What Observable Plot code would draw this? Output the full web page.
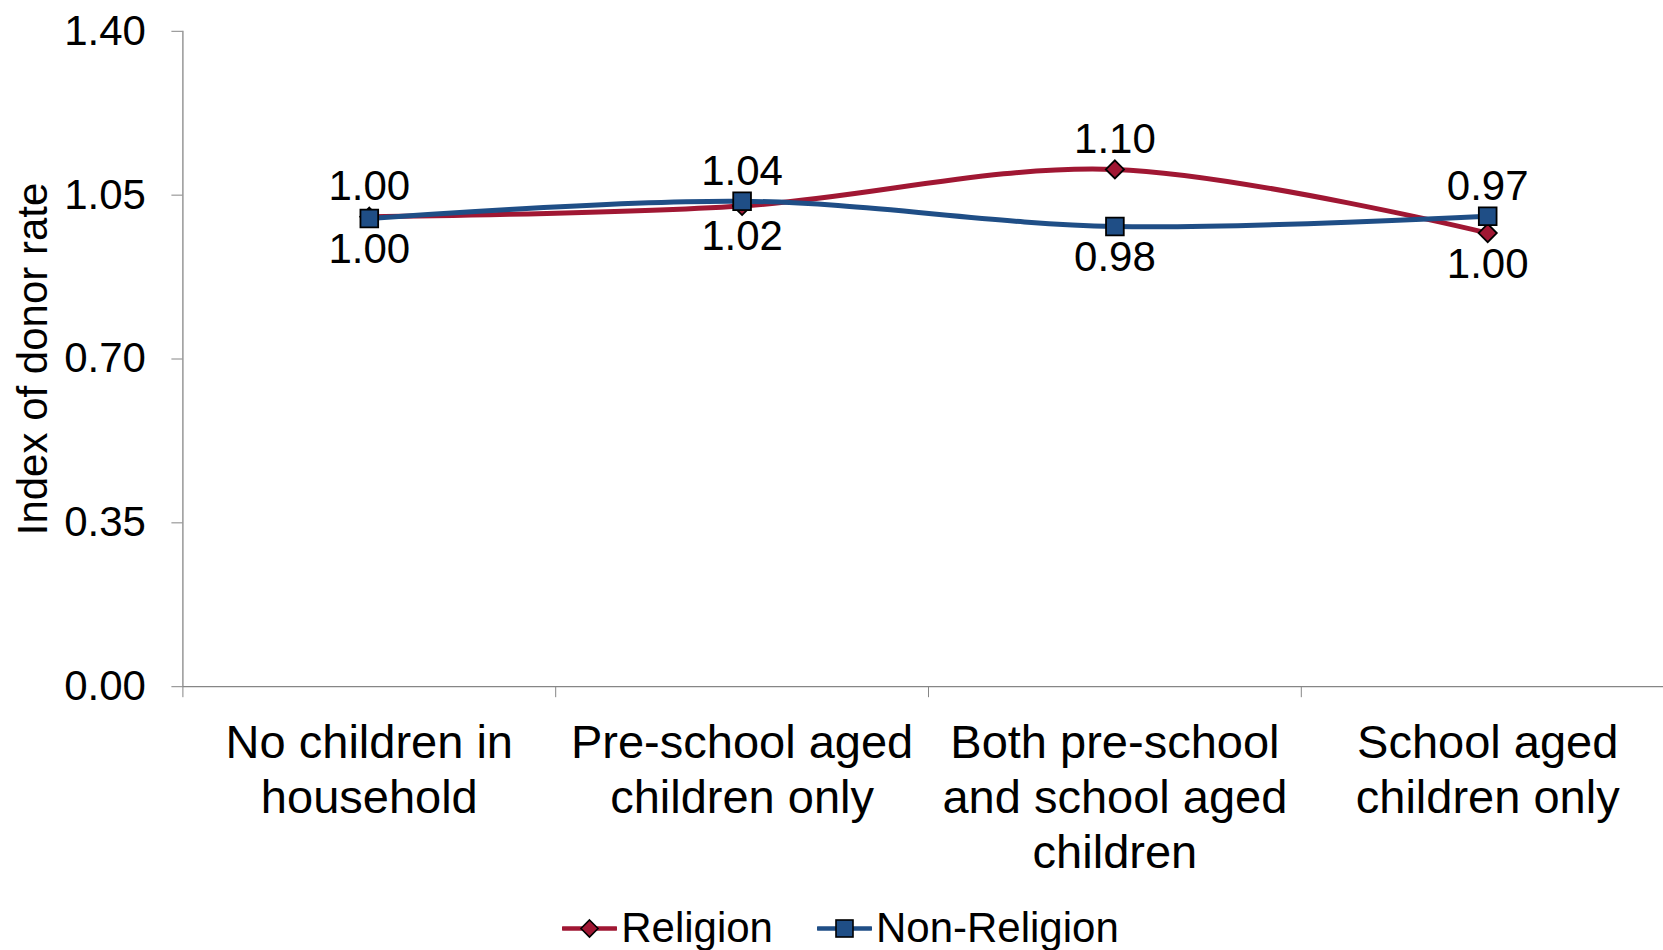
<!DOCTYPE html>
<html><head><meta charset="utf-8">
<script src="https://cdn.jsdelivr.net/npm/d3@7"></script>
<script src="https://cdn.jsdelivr.net/npm/@observablehq/plot@0.6"></script>
<style>
html,body{margin:0;padding:0;background:#fff;overflow:hidden;}
body{font-family:"Liberation Sans",Arial,sans-serif;}
#legend{display:flex;justify-content:center;align-items:center;height:48px;margin-top:14px;font-size:42px;line-height:48px;color:#000;padding-left:18px;}
.item{display:flex;align-items:center;}
.item + .item{margin-left:44px;}
.item svg{margin-right:4px;}
</style></head>
<body><div id="chart"></div><div id="legend"></div>
<script>
const categories = ["No children in\nhousehold", "Pre-school aged\nchildren only", "Both pre-school\nand school aged\nchildren", "School aged\nchildren only"];
const seriesNames = ["Religion", "Non-Religion"];
const religion = [1.004, 1.027, 1.105, 0.969];
const nonReligion = [1.000, 1.037, 0.983, 1.005];
const religionLabels = ["1.00", "1.02", "1.10", "1.00"];
const nonReligionLabels = ["1.00", "1.04", "0.98", "0.97"];
const yTicks = [0, 0.35, 0.70, 1.05, 1.40];
const colors = ["#A01733", "#1F4E86"];

const gray = "#868686";
const rows = [];
categories.forEach((c, i) => {
  rows.push({series: seriesNames[0], i, value: religion[i], label: religionLabels[i], above: religion[i] >= nonReligion[i]});
  rows.push({series: seriesNames[1], i, value: nonReligion[i], label: nonReligionLabels[i], above: nonReligion[i] > religion[i]});
});
const rel = rows.filter(d => d.series === seriesNames[0]);
const non = rows.filter(d => d.series === seriesNames[1]);
const xPos = d => d.i + 0.5;

const chart = Plot.plot({
  width: 1663,
  height: 890,
  marginLeft: 182.4,
  marginTop: 30.8,
  marginBottom: 203.8,
  marginRight: 0,
  style: {fontFamily: "Liberation Sans, Arial, sans-serif", fontSize: "42px", background: "white", color: "black"},
  x: {domain: [0, categories.length], range: [182.4, 1673.6]},
  y: {domain: [0, 1.4], range: [686.2, 30.8]},
  marks: [
    Plot.ruleX([0], {y1: 0, y2: 1.4, stroke: gray, strokeWidth: 1.3}),
    Plot.ruleY([0], {x1: 0, x2: categories.length, stroke: gray, strokeWidth: 1.3}),
    Plot.axisY({ticks: yTicks, tickFormat: d => d.toFixed(2), tickSize: 11, tickPadding: 26, fontSize: 42, stroke: gray, fill: "black",
      label: "Index of donor rate", labelAnchor: "center", labelArrow: "none", labelOffset: 166}),
    Plot.axisX({ticks: d3.range(0, categories.length + 1), tickFormat: () => "", tickSize: 11, stroke: gray, label: null}),
    Plot.text(categories, {x: (d, i) => i + 0.5, y: 0, text: d => d, lineAnchor: "top", dy: 32.5, fontSize: 47, lineHeight: 1.17, fill: "black"}),
    Plot.line(rel, {x: xPos, y: "value", stroke: colors[0], strokeWidth: 5, curve: "catmull-rom"}),
    Plot.dot(rel, {x: xPos, y: "value", symbol: "diamond2", r: 8.2, fill: colors[0], stroke: "black", strokeWidth: 1.8}),
    Plot.line(non, {x: xPos, y: "value", stroke: colors[1], strokeWidth: 5, curve: "catmull-rom"}),
    Plot.dot(non, {x: xPos, y: "value", symbol: "square", r: 10, fill: colors[1], stroke: "black", strokeWidth: 1.8}),
    Plot.text(rows.filter(d => d.above), {x: xPos, y: "value", text: "label", dy: -30, fontSize: 42, fill: "black"}),
    Plot.text(rows.filter(d => !d.above), {x: xPos, y: "value", text: "label", dy: 31, fontSize: 42, fill: "black"})
  ]
});
document.getElementById("chart").appendChild(chart);

const legend = document.getElementById("legend");
seriesNames.forEach((name, k) => {
  const item = document.createElement("div");
  item.className = "item";
  const marker = k === 0
    ? `<path d="M27.5,18 L36,26.5 L27.5,35 L19,26.5 Z" fill="${colors[0]}" stroke="black" stroke-width="1.6"/>`
    : `<rect x="19" y="18" width="17" height="17" fill="${colors[1]}" stroke="black" stroke-width="1.6"/>`;
  item.innerHTML = `<svg width="55" height="52"><line x1="1" y1="26.5" x2="54" y2="26.5" stroke="${colors[k]}" stroke-width="4.5" stroke-linecap="round"/>${marker}</svg><span>${name}</span>`;
  legend.appendChild(item);
});
</script>
</body></html>
